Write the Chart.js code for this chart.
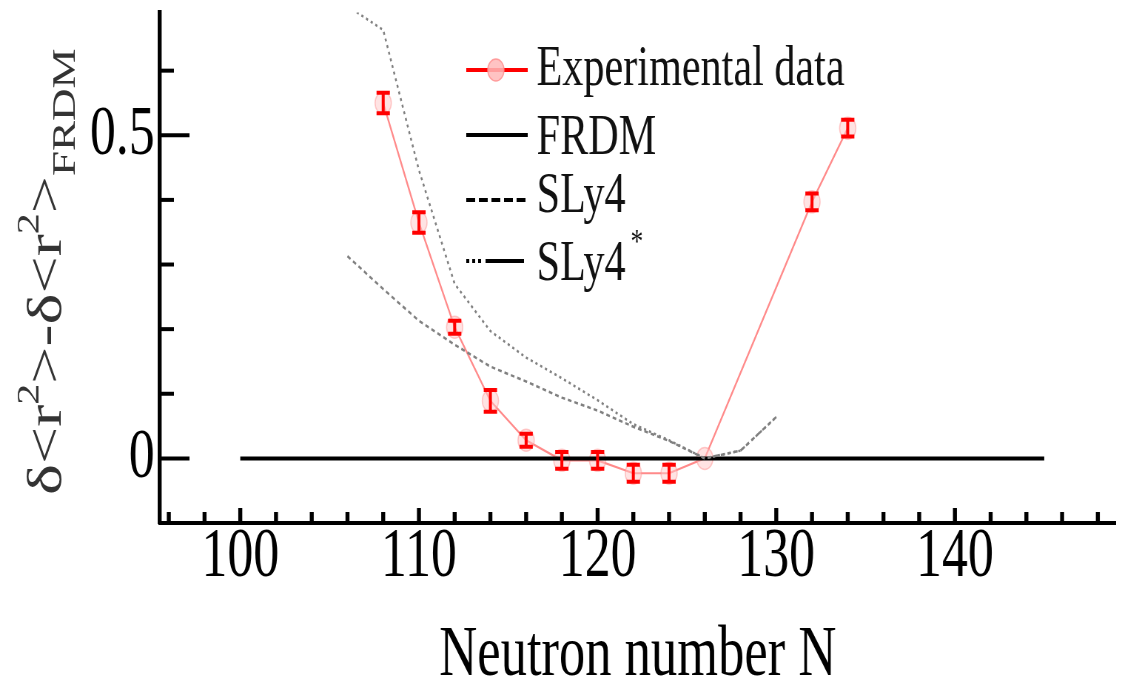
<!DOCTYPE html>
<html>
<head>
<meta charset="utf-8">
<script src="https://cdn.jsdelivr.net/npm/chart.js@4.4.1/dist/chart.umd.min.js"></script>
<style>
  html, body { margin: 0; padding: 0; background: #fff; overflow: hidden; }
  /* the original picture is squeezed sideways, so draw wide and squeeze */
  #wrap { width: 1520px; height: 685px; transform: scaleX(0.7401); transform-origin: 0 0; }
</style>
</head>
<body>
<div id="wrap"><canvas id="chart" width="1520" height="685"></canvas></div>
<script>
// data
const expN = [108, 110, 112, 114, 116, 118, 120, 122, 124, 126, 132, 134];
const expVal = [0.55, 0.365, 0.203, 0.089, 0.028, -0.003, -0.003, -0.023, -0.023, 0, 0.397, 0.511];
const expErr = [0.016, 0.016, 0.01, 0.017, 0.01, 0.013, 0.013, 0.013, 0.013, 0, 0.013, 0.013];

const frdmN = [100, 145];
const frdmVal = [0, 0];

const sly4N = [106, 108, 110, 112, 114, 116, 118, 120, 122, 124, 126, 128, 130];
const sly4Val = [0.313, 0.262, 0.213, 0.176, 0.142, 0.119, 0.094, 0.074, 0.049, 0.027, 0, 0.012, 0.064];

const sly4sN = [106, 108, 110, 112, 114, 116, 118, 120, 122, 124, 126, 128, 130];
const sly4sVal = [0.70, 0.663, 0.446, 0.27, 0.197, 0.156, 0.124, 0.09, 0.053, 0.028, 0, 0.012, 0.064];

const xTickLabels = [100, 110, 120, 130, 140];
const yTickLabels = [0, 0.5];

const FONT = 'Liberation Serif';

function pts(xs, ys) {
  return xs.map((x, i) => ({ x: x, y: ys[i] }));
}

// error bars on the experimental points
const errorBars = {
  id: 'errorBars',
  afterDatasetsDraw(chart) {
    const { ctx, scales: { x, y } } = chart;
    ctx.save();
    ctx.strokeStyle = '#ff0000';
    ctx.lineWidth = 4;
    expN.forEach((n, i) => {
      if (!expErr[i]) return;
      const px = x.getPixelForValue(n);
      const top = y.getPixelForValue(expVal[i] + expErr[i]);
      const bot = y.getPixelForValue(expVal[i] - expErr[i]);
      ctx.beginPath();
      ctx.moveTo(px, top); ctx.lineTo(px, bot);
      ctx.moveTo(px - 9, top); ctx.lineTo(px + 9, top);
      ctx.moveTo(px - 9, bot); ctx.lineTo(px + 9, bot);
      ctx.stroke();
    });
    ctx.restore();
  }
};

// inward tick marks, long on the labelled ones
const tickMarks = {
  id: 'tickMarks',
  afterDraw(chart) {
    const { ctx, scales: { x, y } } = chart;
    ctx.save();
    ctx.strokeStyle = '#000';
    ctx.lineWidth = 5.4;
    const yb = y.getPixelForValue(-0.1);
    for (let n = 96; n <= 148; n += 2) {
      const px = x.getPixelForValue(n);
      const len = xTickLabels.includes(n) ? 15 : 11;
      ctx.beginPath(); ctx.moveTo(px, yb); ctx.lineTo(px, yb - len); ctx.stroke();
    }
    ctx.lineWidth = 4;
    const xl = x.getPixelForValue(95.5);
    for (let k = 0; k <= 6; k++) {
      const v = k / 10;
      const py = y.getPixelForValue(v);
      const len = yTickLabels.includes(v) ? 40 : 19;
      ctx.beginPath(); ctx.moveTo(xl, py); ctx.lineTo(xl + len, py); ctx.stroke();
    }
    ctx.restore();
  }
};

// y title with super/subscripts
const yTitle = {
  id: 'yTitle',
  afterDraw(chart) {
    const ctx = chart.ctx;
    ctx.save();
    ctx.translate(82, 495);
    ctx.rotate(-Math.PI / 2);
    ctx.fillStyle = '#333';
    ctx.textBaseline = 'alphabetic';
    let cx = 0;
    const parts = [
      ['\u03b4<r', 66, 0], ['2', 42, -30], ['>-\u03b4<r', 66, 0], ['2', 42, -30], ['>', 66, 0], ['FRDM', 45, 19]
    ];
    parts.forEach(([t, size, dy]) => {
      ctx.font = size + 'px "' + FONT + '"';
      ctx.fillText(t, cx, dy);
      cx += ctx.measureText(t).width;
    });
    ctx.restore();
  }
};

// legend block
const legendBlock = {
  id: 'legendBlock',
  afterDraw(chart) {
    const ctx = chart.ctx;
    ctx.save();
    ctx.lineWidth = 4;
    // experimental
    ctx.strokeStyle = '#ff0000';
    ctx.beginPath(); ctx.moveTo(630, 70); ctx.lineTo(713, 70); ctx.stroke();
    ctx.beginPath(); ctx.arc(670, 70, 11, 0, Math.PI * 2);
    ctx.fillStyle = 'rgba(255,185,185,0.85)'; ctx.fill();
    ctx.lineWidth = 1.5; ctx.strokeStyle = 'rgba(255,140,140,0.8)'; ctx.stroke();
    ctx.lineWidth = 4;
    // FRDM
    ctx.strokeStyle = '#000';
    ctx.beginPath(); ctx.moveTo(630, 135); ctx.lineTo(713, 135); ctx.stroke();
    // SLy4
    ctx.setLineDash([12, 5]);
    ctx.beginPath(); ctx.moveTo(630, 200); ctx.lineTo(713, 200); ctx.stroke();
    // SLy4*
    ctx.setLineDash([4, 4, 4, 4, 4, 6, 52, 100]);
    ctx.beginPath(); ctx.moveTo(630, 261); ctx.lineTo(713, 261); ctx.stroke();
    ctx.setLineDash([]);

    ctx.fillStyle = '#111';
    ctx.font = '57px "' + FONT + '"';
    ctx.fillText('Experimental data', 725, 85);
    ctx.fillText('FRDM', 725, 154);
    ctx.fillText('SLy4', 725, 212);
    ctx.fillText('SLy4', 725, 280);
    ctx.font = '34px "' + FONT + '"';
    ctx.fillText('*', 852, 252);
    ctx.restore();
  }
};

new Chart(document.getElementById('chart'), {
  type: 'scatter',
  data: {
    datasets: [
      {
        label: 'SLy4',
        data: pts(sly4N, sly4Val),
        showLine: true,
        borderColor: '#808080',
        borderWidth: 2.5,
        borderDash: [5, 4],
        pointRadius: 0
      },
      {
        label: 'SLy4*',
        data: pts(sly4sN, sly4sVal),
        showLine: true,
        borderColor: '#808080',
        borderWidth: 2.5,
        borderDash: [3, 4],
        pointRadius: 0
      },
      {
        label: 'FRDM',
        data: pts(frdmN, frdmVal),
        showLine: true,
        borderColor: '#000',
        borderWidth: 4,
        pointRadius: 0
      },
      {
        label: 'Experimental data',
        data: pts(expN, expVal),
        showLine: true,
        borderColor: '#ff8a8a',
        borderWidth: 2.2,
        pointRadius: 11,
        pointBackgroundColor: 'rgba(255,200,200,0.5)',
        pointBorderColor: 'rgba(255,140,140,0.45)',
        pointBorderWidth: 1.5
      }
    ]
  },
  options: {
    responsive: false,
    animation: false,
    devicePixelRatio: 1,
    layout: { padding: { top: 12, right: 0, left: 0, bottom: 0 } },
    plugins: { legend: { display: false }, tooltip: { enabled: false } },
    scales: {
      x: {
        type: 'linear',
        min: 95.5,
        max: 149,
        afterFit: (s) => { s.height = 162; s.paddingLeft = 0; s.paddingRight = 0; },
        border: { display: true, color: '#000', width: 4 },
        grid: { display: false, drawTicks: false },
        ticks: {
          stepSize: 2,
          includeBounds: false,
          autoSkip: false,
          maxRotation: 0,
          minRotation: 0,
          padding: 0,
          color: '#000',
          font: { family: FONT, size: 70, lineHeight: 1 },
          callback: (v) => xTickLabels.includes(v) ? String(v) : null
        },
        title: {
          display: true,
          text: 'Neutron number N',
          color: '#000',
          font: { family: FONT, size: 71, lineHeight: 0.8 },
          padding: { top: 0, bottom: 0 }
        }
      },
      y: {
        type: 'linear',
        min: -0.1,
        max: 0.69,
        afterFit: (s) => { s.width = 216; s.paddingTop = 0; s.paddingBottom = 0; },
        border: { display: true, color: '#000', width: 5.4 },
        grid: { display: false, drawTicks: false },
        ticks: {
          stepSize: 0.1,
          includeBounds: false,
          autoSkip: false,
          padding: 7,
          color: '#000',
          font: { family: FONT, size: 70, lineHeight: 1 },
          callback: (v) => {
            if (Math.abs(v) < 1e-6) return '0';
            if (Math.abs(v - 0.5) < 1e-6) return '0.5';
            return null;
          }
        }
      }
    }
  },
  plugins: [errorBars, tickMarks, yTitle, legendBlock]
});
</script>
</body>
</html>
